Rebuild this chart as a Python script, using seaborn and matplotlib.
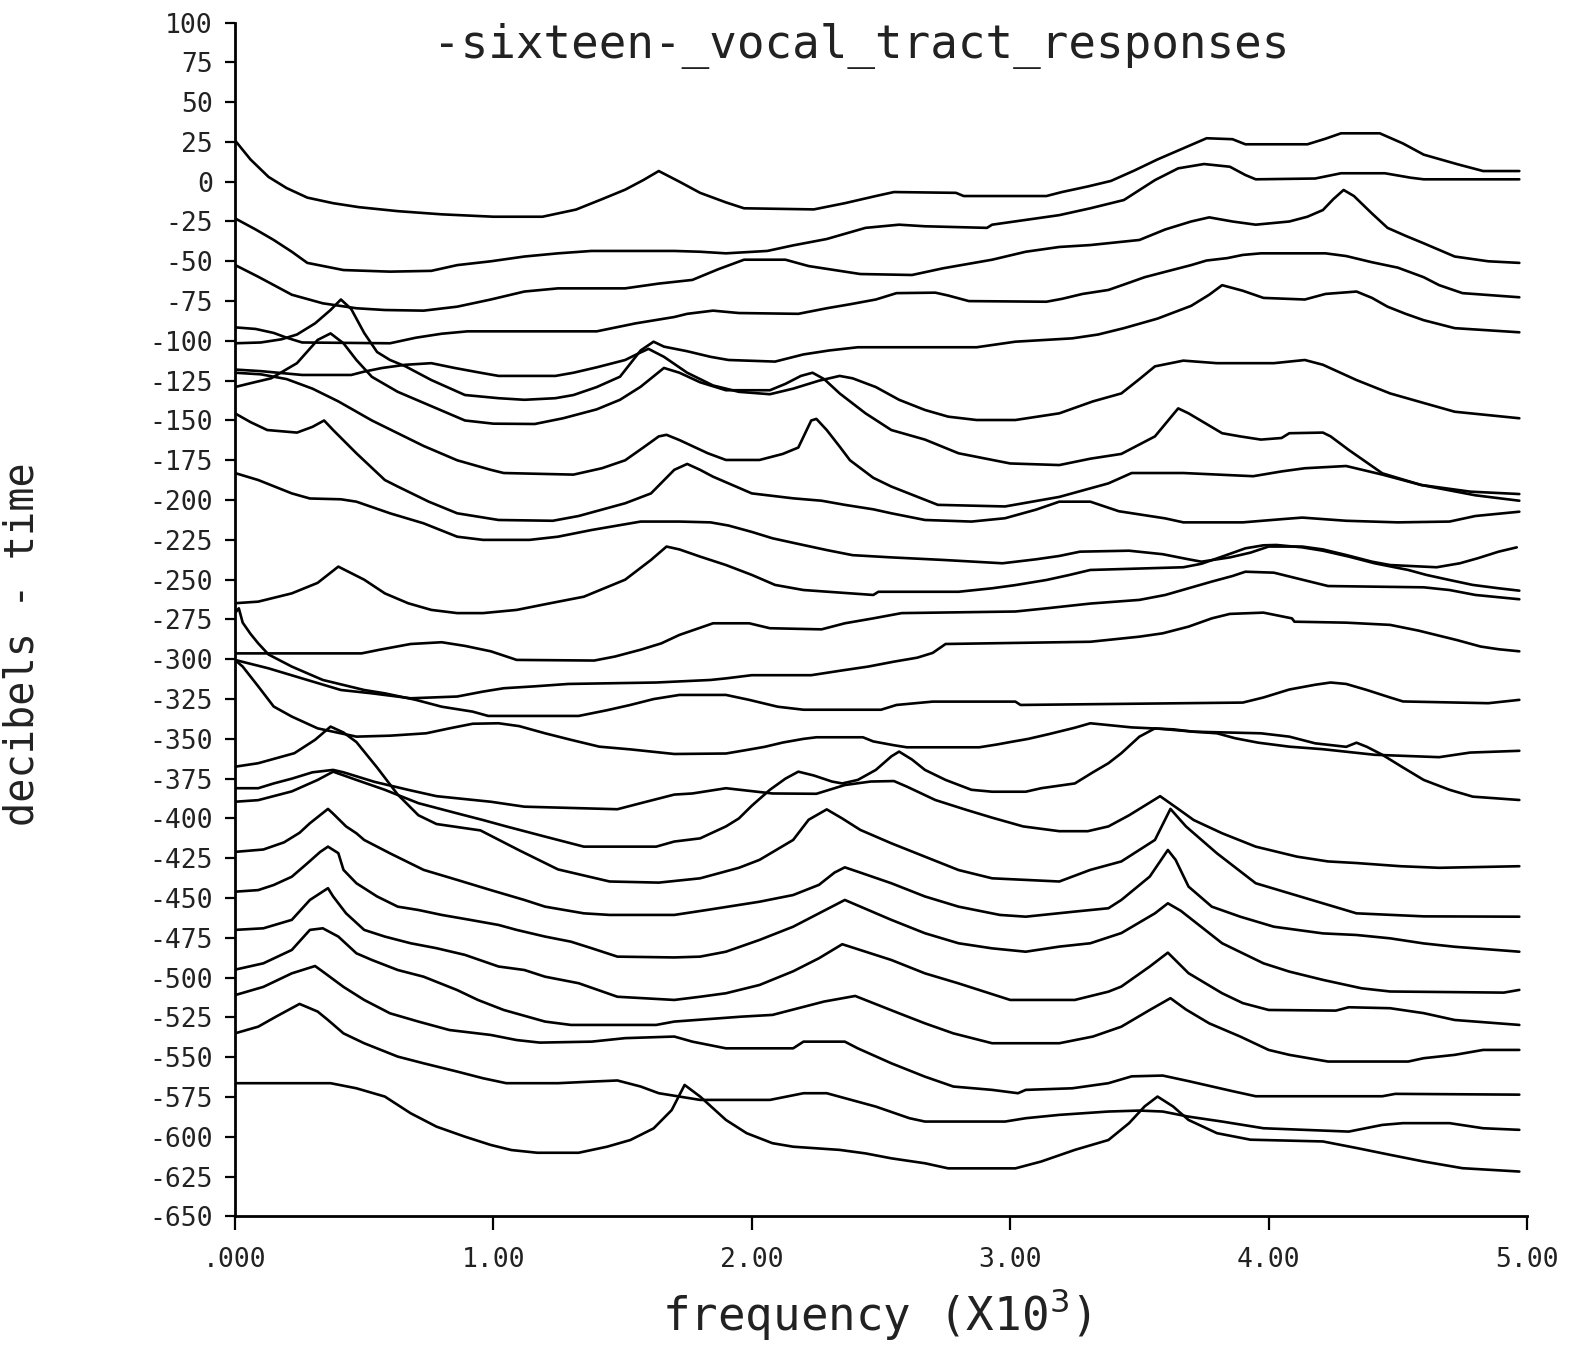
import matplotlib
matplotlib.use("Agg")
import matplotlib.pyplot as plt
import seaborn as sns
import pandas as pd

# ---- data: (frequency kHz, dB) knots ----
A = [(0,26),(0.06,14),(0.13,3),(0.2,-4),(0.28,-10),(0.38,-13.5),(0.48,-16),(0.63,-18.5),(0.8,-20.5),(1.0,-22),(1.19,-22),(1.32,-17.5),(1.42,-11),(1.51,-5),(1.58,1),(1.64,6.7),(1.72,0),(1.80,-7),(1.9,-13),(1.97,-16.7),(2.24,-17.4),(2.36,-13.5),(2.48,-9),(2.55,-6.5),(2.79,-7),(2.82,-9),(3.14,-9),(3.2,-6.5),(3.3,-3),(3.39,0.5),(3.48,7),(3.57,14),(3.67,21),(3.76,27.3),(3.86,26.7),(3.91,23.5),(4.15,23.5),(4.22,27),(4.28,30.4),(4.43,30.4),(4.52,24),(4.60,17),(4.73,11),(4.83,6.7),(4.97,6.7)]
B = [(0,-23),(0.08,-30),(0.15,-36.6),(0.22,-44),(0.28,-51),(0.42,-55.5),(0.60,-56.5),(0.76,-56),(0.86,-52.4),(0.99,-50),(1.12,-47),(1.25,-45),(1.38,-43.5),(1.70,-43.5),(1.80,-44),(1.90,-45),(2.06,-43.5),(2.16,-40),(2.29,-36),(2.44,-29),(2.57,-27),(2.67,-28),(2.91,-29),(2.93,-27),(3.06,-24),(3.19,-21),(3.31,-16.7),(3.44,-11.5),(3.56,1),(3.65,8.4),(3.75,11.1),(3.85,9.4),(3.91,4.2),(3.95,1.5),(4.18,2),(4.28,5.3),(4.45,5.3),(4.55,2.5),(4.60,1.5),(4.97,1.5)]
C = [(0,-52.3),(0.09,-59.7),(0.22,-71),(0.34,-76.4),(0.47,-79.5),(0.58,-80.6),(0.73,-81),(0.86,-78.5),(0.99,-74),(1.12,-69),(1.25,-67),(1.51,-67),(1.64,-64),(1.77,-61.7),(1.87,-55),(1.97,-49),(2.13,-49),(2.22,-53),(2.42,-58),(2.62,-58.6),(2.74,-54.4),(2.93,-49),(3.06,-44),(3.19,-41),(3.31,-39.8),(3.50,-36.6),(3.60,-30),(3.70,-25),(3.77,-22.4),(3.86,-25),(3.95,-27),(4.08,-25),(4.15,-22),(4.21,-17.8),(4.25,-11),(4.29,-5.2),(4.33,-9),(4.40,-20),(4.46,-29),(4.53,-34),(4.60,-38.7),(4.72,-47),(4.85,-50),(4.97,-51)]
D = [(0,-91.5),(0.08,-92.5),(0.15,-95),(0.2,-98),(0.26,-101),(0.6,-101.5),(0.7,-98),(0.8,-95.5),(0.9,-94),(1.4,-94),(1.55,-89),(1.70,-85),(1.75,-83),(1.85,-81),(1.95,-82.5),(2.18,-83),(2.29,-79.5),(2.38,-77),(2.48,-74),(2.56,-70),(2.71,-69.7),(2.76,-71.5),(2.84,-75),(3.14,-75.4),(3.2,-73.6),(3.28,-70.5),(3.38,-68),(3.44,-64.6),(3.52,-60),(3.6,-56.6),(3.7,-52.4),(3.76,-49.5),(3.84,-48),(3.9,-46),(3.97,-45),(4.22,-45),(4.3,-46.7),(4.4,-50.6),(4.5,-54),(4.6,-60),(4.66,-65),(4.75,-70),(4.97,-72.6)]
E = [(0,-101.5),(0.1,-101),(0.18,-99),(0.24,-96),(0.31,-89),(0.37,-80.6),(0.41,-74),(0.45,-80),(0.50,-95),(0.55,-107),(0.60,-112),(0.66,-116),(0.76,-124.6),(0.89,-134),(1.02,-136),(1.12,-137),(1.24,-136),(1.31,-134),(1.40,-129),(1.49,-122.5),(1.57,-106),(1.62,-100.5),(1.66,-103.6),(1.75,-106.5),(1.84,-110),(1.91,-112),(2.09,-113),(2.2,-108.5),(2.3,-106),(2.41,-104),(2.87,-104),(3.02,-100.5),(3.24,-98.4),(3.34,-96),(3.44,-92),(3.57,-86),(3.70,-78),(3.77,-71),(3.82,-65),(3.90,-68.5),(3.98,-73),(4.14,-74),(4.22,-70.5),(4.34,-69),(4.40,-73),(4.46,-78.5),(4.53,-83),(4.6,-87),(4.72,-92),(4.97,-94.6)]
F = [(0,-118),(0.1,-119),(0.26,-121.4),(0.45,-121.4),(0.5,-119.3),(0.57,-117),(0.66,-115),(0.76,-114),(0.85,-117),(0.95,-120),(1.02,-122),(1.24,-122),(1.31,-120),(1.40,-116.6),(1.51,-112),(1.56,-108),(1.60,-105),(1.66,-110),(1.75,-120),(1.85,-128),(1.95,-132),(2.07,-133.5),(2.16,-130),(2.26,-125),(2.34,-122),(2.39,-123.5),(2.48,-129),(2.57,-137),(2.67,-143.4),(2.76,-147.6),(2.87,-149.7),(3.02,-149.7),(3.19,-145.5),(3.32,-138),(3.43,-133),(3.50,-124),(3.56,-116),(3.67,-112.4),(3.80,-114),(4.02,-114),(4.14,-112),(4.21,-115),(4.34,-124.6),(4.47,-133),(4.60,-139),(4.72,-144.5),(4.97,-148.6)]
F2 = [(0,-120),(0.1,-121),(0.2,-124),(0.3,-130),(0.4,-138),(0.53,-150),(0.63,-158),(0.73,-166),(0.86,-175),(0.99,-181),(1.04,-183),(1.31,-184),(1.42,-180),(1.51,-175),(1.58,-167),(1.64,-160),(1.67,-159),(1.72,-162.3),(1.83,-170.6),(1.9,-174.8),(2.03,-174.8),(2.12,-171),(2.18,-167),(2.23,-150),(2.25,-149),(2.29,-156),(2.34,-166.4),(2.38,-175),(2.47,-186),(2.54,-191.5),(2.72,-203),(2.98,-204),(3.19,-198),(3.38,-189.5),(3.47,-183),(3.67,-183),(3.94,-185),(4.05,-182),(4.14,-180),(4.30,-178.6),(4.44,-184),(4.59,-190.5),(4.78,-194.7),(4.97,-196.2)]
G = [(0,-129),(0.06,-126.6),(0.14,-123.5),(0.24,-114),(0.32,-99.4),(0.37,-95.3),(0.42,-101.5),(0.47,-112),(0.53,-122.6),(0.63,-132),(0.76,-141),(0.89,-150),(1.0,-152),(1.16,-152.2),(1.27,-148.6),(1.40,-143),(1.49,-137),(1.57,-128.8),(1.66,-117),(1.72,-120),(1.80,-126),(1.90,-131),(2.07,-131),(2.13,-127),(2.19,-122),(2.235,-120),(2.28,-124),(2.34,-133),(2.44,-145.5),(2.54,-156),(2.67,-162),(2.80,-170.6),(3.0,-177),(3.19,-178),(3.31,-174),(3.43,-171),(3.56,-160),(3.65,-142.4),(3.69,-145.5),(3.82,-158),(3.89,-160),(3.97,-162),(4.05,-161),(4.08,-158),(4.21,-157.6),(4.24,-160),(4.31,-168.5),(4.44,-183.2),(4.59,-190.5),(4.8,-197),(4.97,-200.4)]
H = [(0,-145.5),(0.06,-151),(0.125,-156),(0.24,-157.6),(0.30,-154),(0.345,-150),(0.38,-156),(0.47,-170.6),(0.58,-187.4),(0.63,-191.5),(0.75,-201),(0.86,-208.3),(1.02,-212.5),(1.23,-213),(1.33,-210),(1.51,-202),(1.61,-195.8),(1.70,-181),(1.75,-177.3),(1.80,-181),(1.85,-185.3),(2.0,-195.8),(2.16,-198.9),(2.27,-200.4),(2.36,-203),(2.47,-205.8),(2.54,-208.3),(2.67,-212.5),(2.85,-213.5),(2.98,-211.4),(3.10,-206),(3.19,-201),(3.31,-201),(3.42,-207),(3.60,-211.5),(3.67,-214),(3.90,-214),(4.05,-212),(4.13,-211),(4.30,-213),(4.50,-214),(4.70,-213.5),(4.80,-210),(4.97,-207.3)]
I = [(0,-183),(0.09,-187.4),(0.22,-195.8),(0.29,-199),(0.41,-199.5),(0.47,-201),(0.60,-208.3),(0.73,-214.6),(0.86,-223),(0.96,-225),(1.14,-225),(1.25,-223),(1.38,-218.8),(1.57,-213.5),(1.72,-213.5),(1.84,-214),(1.91,-216),(2.0,-220),(2.08,-224),(2.17,-227.2),(2.29,-231.4),(2.39,-234.6),(2.54,-236),(2.74,-237.6),(2.97,-239.7),(3.10,-237.2),(3.19,-235.1),(3.27,-232.4),(3.46,-231.8),(3.59,-234),(3.69,-237.2),(3.74,-238.7),(3.85,-236),(3.93,-233),(4.0,-229.2),(4.13,-229.2),(4.21,-231),(4.30,-234.5),(4.40,-238.7),(4.47,-240.8),(4.65,-242.2),(4.74,-239.7),(4.81,-236.5),(4.89,-232.4),(4.96,-229.7)]
J = [(0,-264.8),(0.09,-263.8),(0.22,-258.6),(0.32,-252),(0.40,-241.8),(0.50,-250),(0.58,-258.6),(0.67,-264.8),(0.76,-269),(0.86,-271),(0.96,-271),(1.09,-269),(1.22,-264.8),(1.35,-260.7),(1.51,-250),(1.61,-237.6),(1.67,-229.2),(1.72,-231),(1.80,-235.5),(1.90,-240.8),(2.0,-247),(2.09,-253.3),(2.20,-256.5),(2.47,-259.6),(2.49,-257.6),(2.80,-257.6),(2.93,-255.4),(3.02,-253.4),(3.14,-250.2),(3.23,-247),(3.31,-243.9),(3.67,-242.2),(3.74,-240),(3.82,-235.5),(3.91,-230.3),(3.98,-228.4),(4.03,-228.2),(4.13,-229.7),(4.21,-231.8),(4.31,-235.5),(4.41,-239.7),(4.54,-243.9),(4.61,-247),(4.70,-250.2),(4.79,-253.3),(4.89,-255.4),(4.97,-256.9)]
K = [(0,-271),(0.015,-268),(0.03,-277),(0.06,-284),(0.09,-290),(0.13,-297),(0.22,-304.6),(0.34,-313),(0.50,-319.3),(0.58,-321.4),(0.70,-325.5),(0.80,-329.8),(0.92,-332.9),(0.98,-335.6),(1.33,-335.6),(1.44,-332),(1.53,-328.7),(1.62,-325),(1.72,-322.4),(1.90,-322.4),(1.99,-325.5),(2.10,-329.8),(2.20,-331.7),(2.50,-331.7),(2.56,-328.7),(2.70,-326.6),(3.02,-326.6),(3.04,-328.7),(3.90,-327.2),(3.98,-324),(4.08,-319),(4.18,-316),(4.24,-314.6),(4.30,-315.5),(4.38,-319.3),(4.47,-324),(4.52,-326.5),(4.85,-327.6),(4.97,-325.5)]
L = [(0,-296.3),(0.49,-296.3),(0.56,-294),(0.68,-290.4),(0.80,-289.3),(0.89,-291.6),(0.99,-295),(1.07,-299.3),(1.09,-300.4),(1.39,-300.8),(1.47,-298.3),(1.57,-294),(1.65,-290),(1.72,-284.7),(1.85,-277.4),(1.99,-277.4),(2.07,-280.5),(2.27,-281.2),(2.36,-277.4),(2.47,-274.3),(2.58,-271),(3.02,-270),(3.14,-268),(3.31,-265),(3.50,-262.7),(3.60,-259.6),(3.69,-255.4),(3.78,-251.2),(3.86,-247.7),(3.91,-245),(4.02,-245.6),(4.08,-248),(4.16,-251.2),(4.23,-254),(4.60,-254.8),(4.70,-256.5),(4.80,-259.6),(4.97,-262.3)]
M = [(0,-300.4),(0.13,-305.7),(0.28,-313),(0.41,-319.3),(0.53,-321.4),(0.68,-324.5),(0.86,-323.4),(0.96,-320.3),(1.04,-318.2),(1.16,-317),(1.29,-315.5),(1.63,-314.6),(1.84,-313),(1.90,-312),(2.0,-310),(2.23,-310),(2.35,-307),(2.45,-304.6),(2.55,-301.5),(2.64,-299),(2.70,-296),(2.75,-290.4),(3.31,-289),(3.50,-285.8),(3.59,-283.7),(3.69,-279.5),(3.78,-274.3),(3.85,-271.5),(3.98,-270.7),(4.09,-274.3),(4.10,-276.4),(4.30,-277),(4.47,-278.4),(4.58,-282),(4.73,-288),(4.82,-292),(4.89,-293.7),(4.97,-295)]
N = [(0,-300.4),(0.03,-304.6),(0.09,-317),(0.15,-329.7),(0.22,-336),(0.32,-343.4),(0.38,-345.5),(0.47,-348.6),(0.60,-348),(0.74,-346.5),(0.83,-343.4),(0.92,-340.5),(1.02,-340.2),(1.10,-342),(1.20,-346.5),(1.30,-350.6),(1.41,-354.9),(1.53,-356.6),(1.70,-359.5),(1.90,-359.2),(1.98,-357),(2.05,-355),(2.12,-352.3),(2.20,-350),(2.25,-349),(2.43,-349),(2.47,-351.6),(2.55,-354),(2.60,-355.3),(2.88,-355.3),(2.95,-353.5),(3.0,-352),(3.07,-350),(3.15,-347),(3.20,-345),(3.25,-343),(3.31,-340.2),(3.47,-342.8),(3.63,-344),(3.71,-345.5),(3.80,-346.5),(3.87,-349.6),(3.96,-352.4),(4.08,-354.9),(4.21,-356.5),(4.41,-360),(4.66,-361.5),(4.78,-358.6),(4.97,-357.5)]
O = [(0,-367.5),(0.09,-365.3),(0.23,-359),(0.31,-350.6),(0.37,-342.3),(0.42,-346),(0.47,-352),(0.55,-368),(0.63,-385),(0.71,-398),(0.78,-403.5),(0.95,-407.5),(1.1,-420),(1.25,-432),(1.45,-439.6),(1.64,-440.3),(1.80,-437.6),(1.95,-431),(2.03,-426),(2.16,-413.5),(2.22,-400.8),(2.29,-394.3),(2.35,-400),(2.42,-407.2),(2.54,-415.6),(2.67,-424),(2.80,-432.4),(2.93,-437.6),(3.19,-439.6),(3.31,-432.3),(3.43,-427),(3.56,-413.5),(3.62,-394),(3.68,-405),(3.80,-421.9),(3.95,-440.7),(4.08,-447),(4.21,-453.3),(4.34,-459.6),(4.6,-461.5),(4.97,-461.7)]
P = [(0,-381),(0.09,-381),(0.15,-378),(0.22,-375),(0.30,-371),(0.38,-369.5),(0.42,-371),(0.54,-377),(0.67,-382),(0.78,-386),(0.99,-389.5),(1.12,-392.6),(1.48,-394.2),(1.57,-390.4),(1.70,-385),(1.77,-384.3),(1.90,-381),(2.08,-384.3),(2.25,-384.5),(2.30,-382),(2.36,-379),(2.46,-376.8),(2.55,-376.5),(2.60,-380),(2.71,-388.4),(2.83,-394.6),(2.93,-399.5),(3.05,-405),(3.19,-408),(3.30,-408),(3.38,-405),(3.46,-398),(3.52,-392),(3.58,-386),(3.65,-394),(3.71,-401),(3.82,-409.3),(3.95,-417.7),(4.11,-424),(4.23,-427),(4.34,-428),(4.51,-430),(4.66,-431),(4.97,-430)]
Q = [(0,-389.5),(0.09,-388.5),(0.22,-383),(0.32,-375.8),(0.38,-370.6),(0.47,-375.8),(0.58,-382),(0.71,-390.4),(0.86,-396.8),(0.96,-401),(1.05,-405),(1.20,-411.4),(1.35,-417.7),(1.63,-417.7),(1.70,-414.5),(1.80,-412.5),(1.90,-405),(1.95,-400),(2.0,-392),(2.07,-382),(2.13,-375),(2.18,-370.6),(2.24,-373),(2.31,-376.8),(2.35,-378),(2.41,-375.8),(2.48,-369.5),(2.54,-361),(2.57,-358),(2.62,-363),(2.67,-369.5),(2.75,-375.8),(2.85,-382),(2.93,-383.2),(3.06,-383.2),(3.12,-381),(3.25,-378),(3.32,-371),(3.38,-365.3),(3.43,-359),(3.50,-348.6),(3.56,-343.4),(3.71,-345.5),(3.97,-346.5),(4.08,-348.6),(4.18,-352.8),(4.30,-355),(4.34,-352.4),(4.38,-355),(4.44,-360),(4.52,-368),(4.60,-375.8),(4.70,-382),(4.79,-386.3),(4.97,-388.4)]
R = [(0,-421),(0.11,-419.5),(0.19,-415),(0.25,-409),(0.29,-403),(0.36,-394),(0.38,-397),(0.43,-405),(0.47,-409.3),(0.50,-413.5),(0.60,-421.9),(0.73,-432.3),(0.86,-438.6),(0.99,-445),(1.12,-451.2),(1.20,-455.4),(1.35,-459.6),(1.45,-460.6),(1.70,-460.6),(1.83,-457.4),(2.03,-452.3),(2.16,-448.1),(2.26,-441.7),(2.32,-434),(2.36,-430.7),(2.42,-434),(2.54,-440.7),(2.67,-449),(2.80,-455.4),(2.96,-460.6),(3.06,-461.7),(3.25,-458.5),(3.38,-456.4),(3.43,-451.2),(3.54,-436.5),(3.61,-419.8),(3.64,-426),(3.69,-442.8),(3.78,-455.4),(3.89,-461.7),(4.02,-468),(4.21,-472.2),(4.34,-473.2),(4.47,-475.3),(4.60,-478.5),(4.72,-480.6),(4.97,-483.7)]
S = [(0,-446),(0.09,-445),(0.15,-441.8),(0.22,-436.6),(0.28,-428.2),(0.33,-421),(0.36,-417.7),(0.40,-421.8),(0.42,-432.3),(0.47,-440.7),(0.55,-449),(0.63,-455.4),(0.71,-457.5),(0.80,-460.6),(0.91,-463.7),(1.02,-466.9),(1.09,-470),(1.20,-474.2),(1.30,-477.4),(1.38,-481.5),(1.48,-486.8),(1.70,-487.3),(1.80,-486.8),(1.90,-483.7),(2.03,-476.3),(2.16,-468),(2.26,-459.6),(2.36,-451.2),(2.54,-463.7),(2.67,-472.1),(2.80,-478.4),(2.93,-481.6),(3.06,-483.7),(3.19,-480.5),(3.31,-478.4),(3.43,-472),(3.56,-459.6),(3.61,-453.3),(3.66,-458),(3.82,-478.4),(3.98,-491),(4.08,-496.2),(4.21,-501.4),(4.36,-506.7),(4.47,-508.7),(4.91,-509.4),(4.97,-507.7)]
T = [(0,-470),(0.11,-469),(0.22,-463.7),(0.29,-451.2),(0.36,-443.8),(0.38,-449),(0.43,-459.6),(0.50,-470),(0.58,-474.2),(0.68,-478.4),(0.78,-481.5),(0.89,-485.7),(1.02,-493),(1.12,-495.2),(1.20,-499.4),(1.33,-503.5),(1.48,-512),(1.70,-514),(1.80,-512),(1.90,-509.8),(2.03,-504.6),(2.16,-496),(2.26,-487.8),(2.35,-479),(2.54,-488.9),(2.67,-497.3),(2.80,-503.6),(3.0,-514),(3.25,-514),(3.38,-508.8),(3.43,-505.6),(3.54,-493),(3.61,-484.3),(3.69,-497.2),(3.82,-509.8),(3.90,-516),(4.0,-520.3),(4.26,-520.7),(4.31,-518.6),(4.47,-519.2),(4.60,-522.3),(4.72,-526.6),(4.97,-529.7)]
U = [(0,-495),(0.11,-491),(0.22,-482.6),(0.29,-470),(0.34,-469),(0.40,-474.2),(0.47,-484.7),(0.53,-488.9),(0.63,-495.2),(0.73,-499.4),(0.86,-507.8),(0.94,-514),(1.04,-520.3),(1.20,-527.6),(1.30,-529.7),(1.63,-529.7),(1.70,-527.6),(1.96,-524.5),(2.08,-523.4),(2.18,-519.2),(2.28,-515),(2.40,-511.5),(2.57,-522.4),(2.67,-528.7),(2.78,-535),(2.93,-541.2),(3.19,-541.2),(3.32,-537),(3.43,-530.8),(3.54,-520.3),(3.62,-512.9),(3.68,-520),(3.77,-528.7),(3.89,-537),(4.0,-545.4),(4.08,-548.5),(4.23,-552.7),(4.54,-552.7),(4.60,-550.6),(4.72,-548.5),(4.83,-545.4),(4.97,-545.4)]
V = [(0,-511),(0.11,-505.8),(0.22,-497.3),(0.31,-492.7),(0.34,-496.2),(0.42,-505.8),(0.50,-514),(0.60,-522.4),(0.71,-527.6),(0.83,-532.9),(0.99,-536),(1.09,-539.2),(1.18,-540.8),(1.38,-540.2),(1.51,-538),(1.70,-537),(1.77,-540.2),(1.90,-544.4),(2.16,-544.4),(2.20,-540.2),(2.36,-540.2),(2.41,-544.4),(2.54,-553.8),(2.67,-562.2),(2.78,-568.4),(2.93,-570.5),(3.03,-572.6),(3.06,-570.5),(3.24,-569.5),(3.38,-566.3),(3.47,-562),(3.59,-561.5),(3.69,-565),(3.86,-571.3),(3.95,-574.5),(4.44,-574.5),(4.49,-573),(4.97,-573.5)]
W = [(0,-535),(0.09,-530.8),(0.16,-524.4),(0.25,-516.5),(0.32,-521.3),(0.36,-526.6),(0.42,-535),(0.50,-541.2),(0.63,-549.6),(0.73,-553.8),(0.86,-559),(0.96,-563.2),(1.05,-566.3),(1.25,-566.3),(1.38,-565.3),(1.48,-564.6),(1.57,-568.4),(1.64,-572.6),(1.80,-576.8),(2.07,-576.8),(2.20,-572.6),(2.29,-572.6),(2.36,-575.7),(2.48,-581),(2.61,-588.3),(2.67,-590.4),(2.98,-590.4),(3.06,-588.3),(3.19,-586.2),(3.38,-584.1),(3.50,-583.5),(3.59,-584.1),(3.69,-587.3),(3.82,-590.4),(3.98,-594.6),(4.31,-596.7),(4.44,-592.5),(4.52,-591.4),(4.70,-591.4),(4.83,-594.6),(4.97,-595.6)]
X = [(0,-566.3),(0.37,-566.3),(0.47,-569.5),(0.58,-574.7),(0.68,-585.2),(0.78,-593.6),(0.89,-599.9),(0.99,-605.1),(1.07,-608.3),(1.17,-610),(1.33,-610),(1.44,-606.2),(1.53,-602),(1.62,-594.7),(1.69,-583.2),(1.74,-567.4),(1.80,-574.7),(1.90,-589.4),(1.98,-597.7),(2.08,-604),(2.16,-606.2),(2.34,-608.2),(2.44,-610.4),(2.54,-613.5),(2.67,-616.6),(2.76,-619.8),(3.02,-619.8),(3.12,-615.5),(3.25,-608.2),(3.38,-602),(3.46,-591.4),(3.52,-580.9),(3.57,-574.7),(3.63,-580.9),(3.69,-589.4),(3.80,-597.7),(3.93,-601.8),(4.21,-602.9),(4.34,-607),(4.47,-611.3),(4.60,-615.5),(4.75,-619.7),(4.97,-621.8)]

Y_TICKS = list(range(-650, 101, 25))
X_TICKS = [0, 1, 2, 3, 4, 5]
X_TICK_LABELS = [".000", "1.00", "2.00", "3.00", "4.00", "5.00"]
TITLE = "-sixteen-_vocal_tract_responses"
X_LABEL = "frequency (X10$^{3}$)"
Y_LABEL = "decibels - time"

curves = {"A": A, "B": B, "C": C, "D": D, "E": E, "F": F, "F2": F2, "G": G,
          "H": H, "I": I, "J": J, "K": K, "L": L, "M": M, "N": N, "O": O,
          "P": P, "Q": Q, "R": R, "S": S, "T": T, "U": U, "V": V, "W": W, "X": X}
rows = [(name, f, db) for name, pts in curves.items() for f, db in pts]
df = pd.DataFrame(rows, columns=["curve", "freq", "db"])

sns.set_theme(style="ticks")
plt.rcParams["font.family"] = ["DejaVu Sans Mono", "DejaVu Sans"]

fig = plt.figure(figsize=(15.8, 13.48), dpi=100)
ax = fig.add_axes([0.1487, 0.0976, 0.8178, 0.8857])

sns.lineplot(data=df, x="freq", y="db", units="curve", estimator=None, sort=False,
             color="black", linewidth=1.9, legend=False, ax=ax)

ax.set_xlim(0, 5)
ax.set_ylim(-650, 100)
ax.set_yticks(Y_TICKS)
ax.set_yticklabels([str(v) for v in Y_TICKS])
ax.set_xticks(X_TICKS)
ax.set_xticklabels(X_TICK_LABELS)
ax.set_xlabel("")
ax.set_ylabel("")
for s in ["top", "right"]:
    ax.spines[s].set_visible(False)
for s in ["left", "bottom"]:
    ax.spines[s].set_color("black")
    ax.spines[s].set_linewidth(2.0)
ax.tick_params(axis="y", direction="out", length=7, width=1.6, color="black",
               labelsize=19, labelcolor="#222222", pad=9)
ax.tick_params(axis="x", direction="out", length=10, width=1.6, color="black",
               labelsize=19, labelcolor="#222222", pad=12)
ax.grid(False)

fig.text(0.545, 0.966, TITLE, ha="center", va="center", fontsize=33, color="#222222")
fig.text(0.555, 0.0255, X_LABEL, ha="center", va="center", fontsize=33, color="#222222")
fig.text(0.014, 0.522, Y_LABEL, ha="center", va="center", rotation=90, fontsize=29, color="#222222")

fig.savefig("out.png", dpi=100, facecolor="white")
